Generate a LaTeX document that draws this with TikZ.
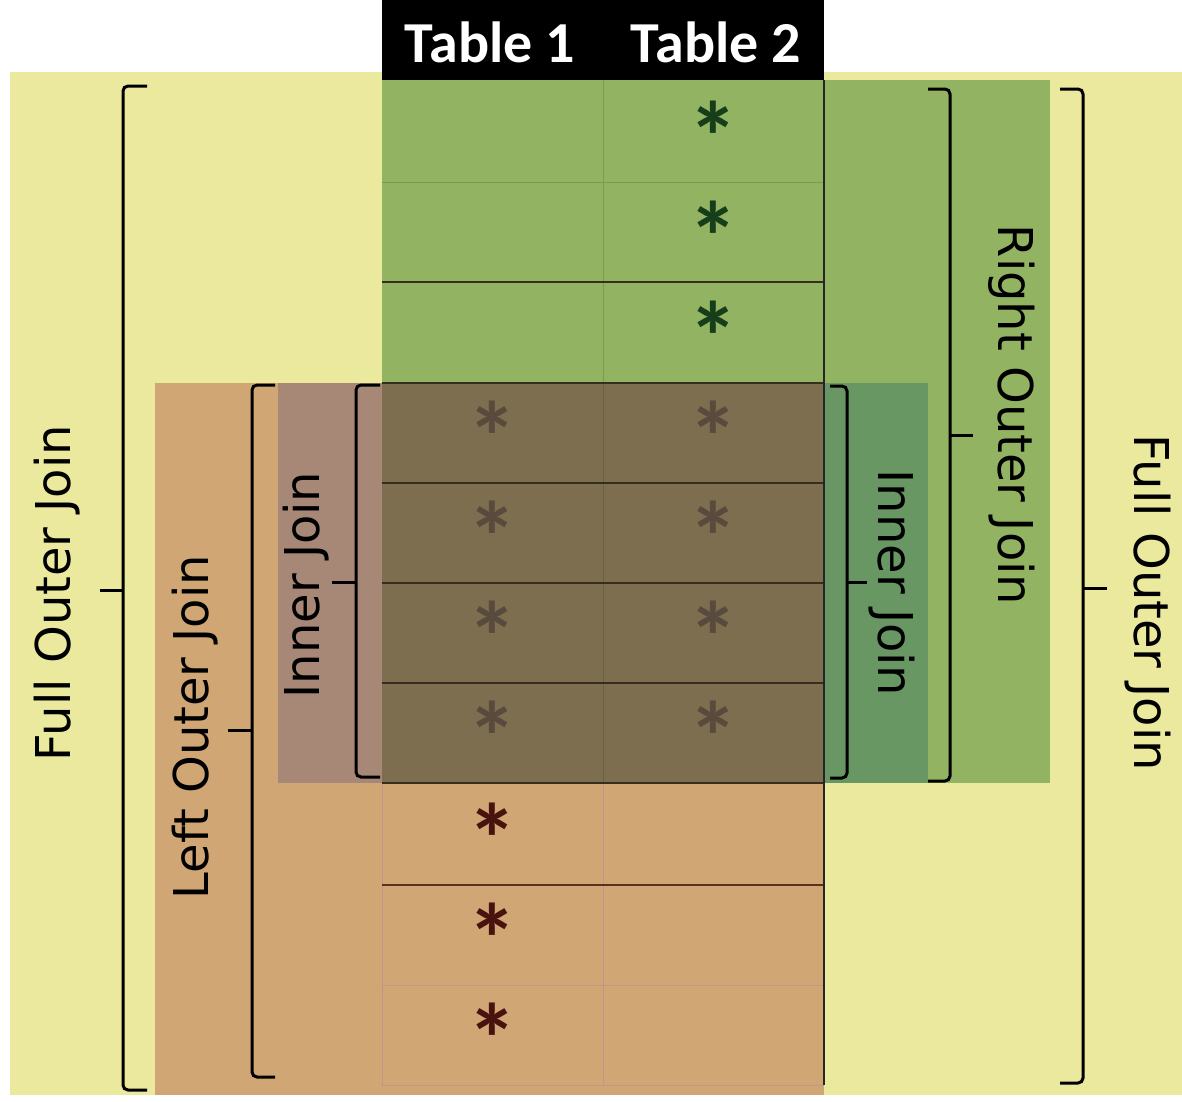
\documentclass[tikz,border=0pt]{standalone}
\usepackage{fontspec}
\newfontfamily\lblfont{DejaVu Sans}
\newfontfamily\hdrfont{Carlito}
\definecolor{bgyellow}{RGB}{234,233,157}
\definecolor{tgreen}{RGB}{146,179,97}
\definecolor{torange}{RGB}{209,166,117}
\definecolor{tover}{RGB}{125,110,80}
\definecolor{tmauve}{RGB}{167,136,119}
\definecolor{tinner}{RGB}{105,151,99}
\definecolor{astgreen}{RGB}{22,62,26}
\definecolor{astgray}{RGB}{88,74,60}
\definecolor{astred}{RGB}{72,18,14}
\definecolor{lnfaintg}{RGB}{122,155,82}
\definecolor{lndark}{RGB}{55,45,30}
\definecolor{lnbrown}{RGB}{95,48,25}
\definecolor{lnpink}{RGB}{192,150,140}
\definecolor{lnover}{RGB}{108,96,70}
\begin{document}
\begin{tikzpicture}[x=1pt,y=-1pt,
  brk/.style={line width=3pt,black,rounded corners=5pt},
  tipl/.style={line width=3pt,black},
  lbl/.style={font=\lblfont\fontsize{48}{48}\selectfont,text=black,inner sep=0pt},
  hdr/.style={font=\hdrfont\bfseries\fontsize{58}{58}\selectfont,text=white,inner sep=0pt},
  ast/.style={font=\hdrfont\bfseries\fontsize{100}{100}\selectfont,inner sep=0pt,anchor=base}
]
\useasboundingbox (0,0) rectangle (1182,1101);
\fill[white] (0,0) rectangle (1182,1101);
% background regions
\fill[bgyellow] (10,72) rectangle (1182,1095);
\fill[tgreen] (382,80) rectangle (824,383);
\fill[tgreen] (824,80) rectangle (1050,783);
\fill[torange] (155,383) rectangle (824,1095);
\fill[tover] (382,383) rectangle (824,783);
\fill[tmauve] (278,383) rectangle (382,783);
\fill[tinner] (824,383) rectangle (928,783);
% header
\fill[black] (382,0) rectangle (824,80);
\node[hdr] (t1) at (490,42) {Table 1};
\node[hdr] (t2) at (716,42) {Table 2};
% grid lines
\draw[lnfaintg,line width=1pt] (382,182) -- (824,182);
\draw[lnfaintg,line width=1pt] (603,80) -- (603,383);
\draw[lnover,line width=1pt] (603,383) -- (603,783);
\draw[lnpink,line width=1pt] (603,783) -- (603,1085);
\draw[lnpink,line width=1pt] (382,783) -- (382,1085);
\draw[lndark,line width=1.5pt] (382,282) -- (824,282);
\foreach \yy in {383,483,583,683,783} \draw[lndark,line width=1.5pt] (382,\yy) -- (824,\yy);
\draw[lnbrown,line width=1.5pt] (382,885) -- (824,885);
\draw[lnpink,line width=1pt] (382,985) -- (824,985);
\draw[lnpink,line width=1pt] (382,1085) -- (824,1085);
\draw[black!85,line width=1.5pt] (824,80) -- (824,1085);
% asterisks
\foreach \yy [count=\i] in {120,220,320} \node[ast,text=astgreen] (ag\i) at (713,\yy+52) {*};
\foreach \yy [count=\i] in {420,520,620,720} {
  \node[ast,text=astgray] (al\i) at (492,\yy+52) {*};
  \node[ast,text=astgray] (ar\i) at (713,\yy+52) {*};
}
\foreach \yy [count=\i] in {822,922,1022} \node[ast,text=astred] (ao\i) at (492,\yy+52) {*};
% brackets
\draw[brk] (147,86) -- (123,86) -- (123,1090) -- (147,1090);
\draw[tipl] (123,590) -- (100,590);
\draw[brk] (275,385) -- (252,385) -- (252,1077) -- (275,1077);
\draw[tipl] (252,730) -- (228,730);
\draw[brk] (380,385) -- (356,385) -- (356,777) -- (380,777);
\draw[tipl] (356,582) -- (332,582);
\draw[brk] (830,386) -- (847,386) -- (847,778) -- (830,778);
\draw[tipl] (847,582) -- (867,582);
\draw[brk] (928,89) -- (950,89) -- (950,781) -- (928,781);
\draw[tipl] (950,435) -- (973,435);
\draw[brk] (1060,89) -- (1083,89) -- (1083,1083) -- (1060,1083);
\draw[tipl] (1083,588) -- (1107,588);
% labels
\node[lbl,rotate=90] (foj1) at (57,593) {Full Outer Join};
\node[lbl,rotate=90] (loj) at (195,727) {Left Outer Join};
\node[lbl,rotate=90] (ij1) at (306,585) {Inner Join};
\node[lbl,rotate=-90] (ij2) at (892,583) {Inner Join};
\node[lbl,rotate=-90] (roj) at (1012,415) {Right Outer Join};
\node[lbl,rotate=-90] (foj2) at (1148,603) {Full Outer Join};
\end{tikzpicture}
\end{document}
